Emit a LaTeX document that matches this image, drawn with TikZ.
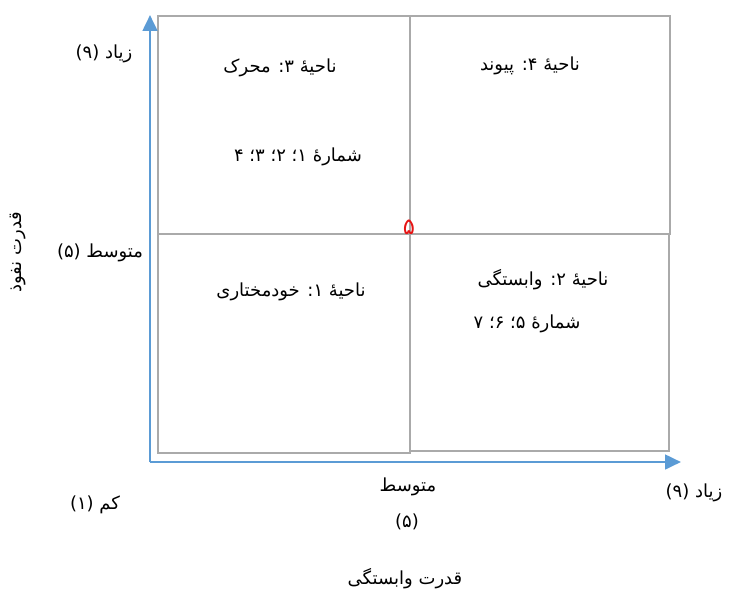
\documentclass[tikz,border=0pt]{standalone}
\usepackage{fontspec}
\newfontfamily\fa[Script=Arabic]{DejaVu Sans}
\TeXXeTstate=1
\usetikzlibrary{arrows.meta}
\definecolor{gridgray}{RGB}{170,170,170}
\definecolor{axisblue}{RGB}{91,155,213}
\definecolor{midred}{RGB}{230,20,20}
\newcommand{\rtl}[1]{\beginR #1\endR}
\begin{document}
\begin{tikzpicture}[x=0.75pt,y=-0.75pt,
  lbl/.style={font=\fa\fontsize{13.5}{16}\selectfont, inner sep=0pt, anchor=center},
  cell/.style={draw=gridgray, line width=1.5pt},
  axis/.style={draw=axisblue, line width=2pt, -{Triangle[length=12pt,width=11pt]}}]
\useasboundingbox (0,0) rectangle (730,592);
% grid cells
\draw[cell] (158,16) rectangle (410,234);
\draw[cell] (410,16) rectangle (670,234);
\draw[cell] (158,234) rectangle (410,453);
\draw[cell] (410,234) rectangle (669,451);
% axes
\coordinate (o) at (150,462);
\coordinate (ytop) at (150,15);
\coordinate (xend) at (681,462);
\draw[axis] (o) -- (ytop);
\draw[axis] (o) -- (xend);
% labels
\node[lbl] (yhigh) at (104,54) {\rtl{زیاد (۹)}};
\node[lbl] (ymid) at (100,253) {\rtl{متوسط (۵)}};
\node[lbl, rotate=90] (ytitle) at (18,252) {\rtl{قدرت نفوذ}};
\node[lbl] (z3) at (280,68) {\rtl{ناحیهٔ ۳: محرک}};
\node[lbl] (z4) at (530,66) {\rtl{ناحیهٔ ۴: پیوند}};
\node[lbl] (n3) at (298,157) {\rtl{شمارهٔ ۱؛ ۲؛ ۳؛ ۴}};
\node[lbl, text=midred, font=\fa\fontsize{17}{18}\selectfont] (mid) at (409,227) {\rtl{۵}};
\node[lbl] (z1) at (291,292) {\rtl{ناحیهٔ ۱: خودمختاری}};
\node[lbl] (z2) at (543,280) {\rtl{ناحیهٔ ۲: وابستگی}};
\node[lbl] (n2) at (527,324) {\rtl{شمارهٔ ۵؛ ۶؛ ۷}};
\node[lbl] (xmid) at (408,487) {\rtl{متوسط}};
\node[lbl] (xmidn) at (407,522) {\rtl{(۵)}};
\node[lbl] (xlow) at (95,505) {\rtl{کم (۱)}};
\node[lbl] (xhigh) at (694,493) {\rtl{زیاد (۹)}};
\node[lbl] (xtitle) at (405,579) {\rtl{قدرت وابستگی}};
\end{tikzpicture}
\end{document}
